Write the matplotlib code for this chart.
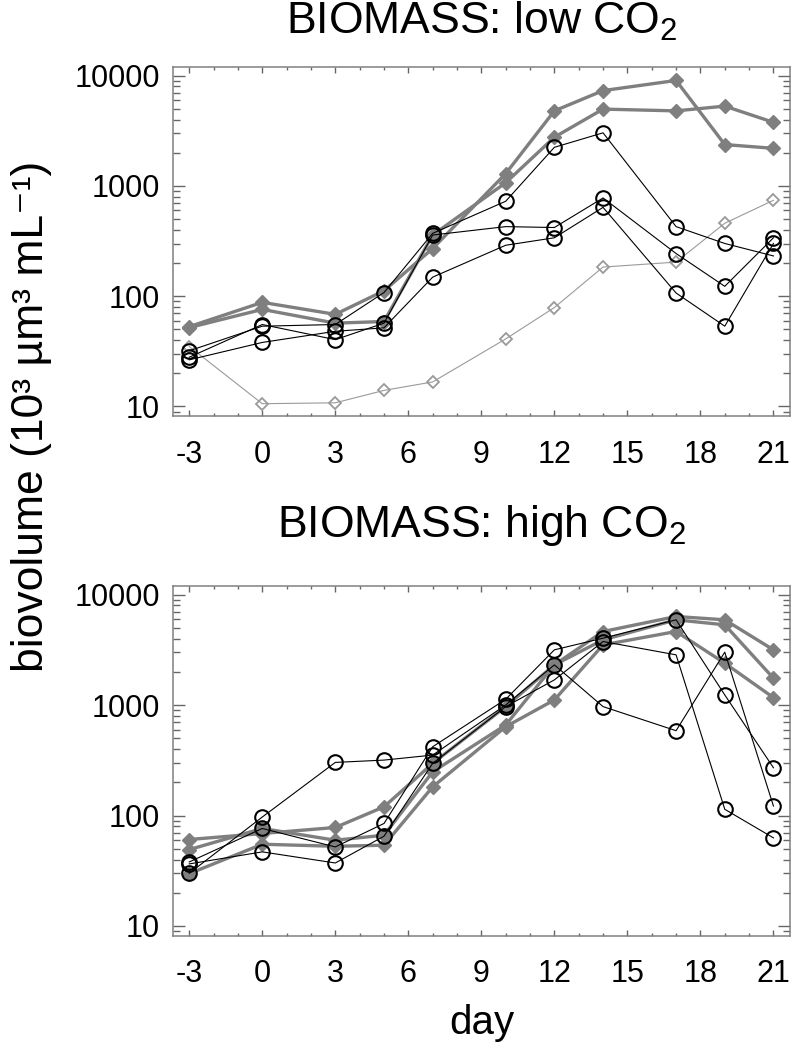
import matplotlib.pyplot as plt
from matplotlib.ticker import FixedLocator, LogLocator, NullFormatter

plt.rcParams['font.family'] = ['Liberation Sans', 'DejaVu Sans']
plt.rcParams['mathtext.fontset'] = 'custom'
plt.rcParams['mathtext.rm'] = 'Liberation Sans'
plt.rcParams['mathtext.it'] = 'Liberation Sans:italic'
plt.rcParams['mathtext.default'] = 'regular'
plt.rcParams['axes.unicode_minus'] = False

# sampling days
days = [-3, 0, 3, 5, 7, 10, 12, 14, 17, 19, 21]

# low CO2 mesocosms
low_diamond_a = [53, 88, 68.5, 112, 271, 1294, 4800, 7330, 9060, 2375, 2196]
low_diamond_b = [52, 76, 57, 59, 359, 1070, 2770, 4980, 4800, 5300, 3780]
low_circle_1 = [32, 53.5, 55.4, 108, 372, 727, 2243, 3035, 428, 301, 232]
low_circle_2 = [28, 55.4, 40.4, 57, 359, 428, 420, 779, 244, 123, 339]
low_circle_3 = [26.5, 38.1, 48.1, 51.7, 149, 290, 339, 640, 107, 53.5, 301]
low_open = [35, 10.6, 10.8, 14.0, 16.7, 41, 79, 184, 204, 459, 742]

# high CO2 mesocosms
high_diamond_a = [60.7, 68.8, 78, 120, 297, 970, 2316, 4645, 6355, 5930, 3170]
high_diamond_b = [49.2, 76.4, 59.8, 66.4, 249, 661, 2316, 3905, 5930, 5340, 1755]
high_diamond_c = [29.8, 55, 52.7, 53.9, 182, 638, 1115, 3517, 4645, 2400, 1170]
high_circle_1 = [30, 97, 303, 318, 353, 1004, 2316, 970, 587, 3020, 122]
high_circle_2 = [38, 76.4, 52, 84.8, 420, 1130, 3170, 4045, 5930, 1238, 271]
high_circle_3 = [36.5, 46.9, 37.2, 65, 297, 970, 1694, 3770, 2855, 114, 62.8]

ytick_vals = [10, 100, 1000, 10000]
ytick_labels = ['10', '100', '1000', '10000']

W, H = 793, 1049
fig = plt.figure(figsize=(W / 100, H / 100), dpi=100)
left, right = 172.7, 790
ax1 = fig.add_axes([left / W, 1 - 416 / H, (right - left) / W, (416 - 67) / H])
ax2 = fig.add_axes([left / W, 1 - 935.5 / H, (right - left) / W, (935.5 - 586) / H])

grey = '#7f7f7f'
light = '#9a9a9a'


def thick(ax, vals):
    ax.plot(days, vals, color=grey, lw=2.4, marker='D', ms=6.8,
            mfc=grey, mec=grey, zorder=3)


def circ(ax, vals):
    ax.plot(days, vals, color='k', lw=0.8, marker='o', ms=10.5,
            mfc='none', mec='k', mew=1.5, zorder=4)


def style(ax):
    ax.set_yscale('log')
    ax.set_ylim(8.2, 12000)
    ax.set_xlim(-3.68, 21.68)
    ax.set_xticks(range(-3, 22, 3))
    ax.set_xticks(range(-3, 22), minor=True)
    ax.yaxis.set_major_locator(FixedLocator(ytick_vals))
    ax.yaxis.set_minor_locator(LogLocator(base=10, subs=range(2, 10)))
    ax.yaxis.set_minor_formatter(NullFormatter())
    ax.set_yticklabels(ytick_labels)
    ax.tick_params(which='both', direction='in', top=True, right=True,
                   color='#666666', labelsize=22)
    ax.tick_params(axis='y', which='major', length=8.5, width=1, pad=9)
    ax.tick_params(axis='y', which='minor', length=4.8, width=1)
    ax.tick_params(axis='x', which='major', length=4.5, width=1, pad=17)
    ax.tick_params(axis='x', which='minor', length=2.5, width=1)
    for s in ax.spines.values():
        s.set_color('#808080')
        s.set_linewidth(1.1)


# top panel
ax1.plot(days, low_open, color=light, lw=0.8, marker='D', ms=6.3,
         mfc='none', mec=light, mew=1.3, zorder=2)
thick(ax1, low_diamond_a)
thick(ax1, low_diamond_b)
circ(ax1, low_circle_1)
circ(ax1, low_circle_2)
circ(ax1, low_circle_3)
style(ax1)
ax1.set_title('BIOMASS: low CO$_2$', fontsize=32, pad=24)

# bottom panel
thick(ax2, high_diamond_a)
thick(ax2, high_diamond_b)
thick(ax2, high_diamond_c)
circ(ax2, high_circle_1)
circ(ax2, high_circle_2)
circ(ax2, high_circle_3)
style(ax2)
ax2.set_title('BIOMASS: high CO$_2$', fontsize=32, pad=35)
ax2.set_xlabel('day', fontsize=29, labelpad=11)

fig.text(32 / W, 1 - 416 / H, 'biovolume (10³ µm³ mL⁻¹)',
         rotation=90, rotation_mode='anchor', ha='center', va='center',
         fontsize=32)

plt.savefig('out.png', dpi=100)
